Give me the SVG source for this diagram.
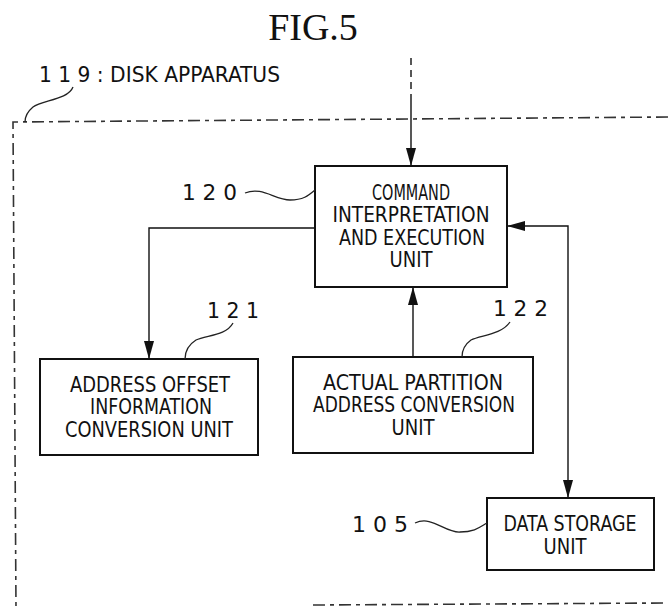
<svg xmlns="http://www.w3.org/2000/svg" width="668" height="608" viewBox="0 0 668 608">
<style>
.box{fill:#fff;stroke:#111;stroke-width:2}
.t{font-family:"DejaVu Sans Condensed","Liberation Sans",Arial,sans-serif;font-size:21px;fill:#111;text-anchor:middle}
.lbl{font-family:"DejaVu Sans Condensed","Liberation Sans",Arial,sans-serif;font-size:22px;fill:#111}
.ld{fill:none;stroke:#222;stroke-width:1.3}
.cn{fill:none;stroke:#111;stroke-width:1.4}
.bd{fill:none;stroke:#333;stroke-width:1.6;stroke-dasharray:12 5 4 5}
</style>
<defs>
<marker id="ah" markerUnits="userSpaceOnUse" markerWidth="18" markerHeight="10" refX="18" refY="5" orient="auto">
<path d="M0,0 L18,5 L0,10 Z" fill="#111"/>
</marker>
<marker id="ahs" markerUnits="userSpaceOnUse" markerWidth="18" markerHeight="10" refX="0" refY="5" orient="auto">
<path d="M18,0 L0,5 L18,10 Z" fill="#111"/>
</marker>
</defs>
<rect width="668" height="608" fill="#fff"/>
<text x="313" y="40" font-family="'Liberation Serif','Times New Roman',serif" font-size="38" fill="#111" text-anchor="middle">FIG.5</text>

<g id="disk-apparatus">
<path class="bd" d="M668,117 L13,122 L16,608"/>
<path class="bd" d="M313,605 L668,603"/>
<text class="lbl" x="39" y="82" font-size="23" textLength="241" lengthAdjust="spacingAndGlyphs">1 1 9 : DISK APPARATUS</text>
<path class="ld" d="M73,87 C68,100 42,100 33,107 C27,112 25,117 25,122"/>
</g>

<g id="connectors">
<path class="cn" d="M411,58 V100" stroke-dasharray="7 5"/>
<path class="cn" d="M411,100 V166" marker-end="url(#ah)"/>
<path class="cn" d="M315,228 H149 V359" marker-end="url(#ah)"/>
<path class="cn" d="M413,357 V287" marker-end="url(#ah)"/>
<path class="cn" d="M507,226 H568 V498" marker-start="url(#ahs)" marker-end="url(#ah)"/>
</g>

<g id="node-120">
<rect class="box" x="315" y="166" width="192" height="121"/>
<text class="t" x="411" y="200" textLength="78" lengthAdjust="spacingAndGlyphs">COMMAND</text>
<text class="t" x="411" y="222" textLength="157" lengthAdjust="spacingAndGlyphs">INTERPRETATION</text>
<text class="t" x="412" y="245" textLength="146" lengthAdjust="spacingAndGlyphs">AND EXECUTION</text>
<text class="t" x="411" y="267" textLength="43" lengthAdjust="spacingAndGlyphs">UNIT</text>
<text class="lbl" x="182" y="200" textLength="55" lengthAdjust="spacingAndGlyphs">1 2 0</text>
<path class="ld" d="M245,193 C262,186 275,200 290,200 C303,200 308,196 315,190"/>
</g>

<g id="node-121">
<rect class="box" x="40" y="359" width="218" height="96"/>
<text class="t" x="150" y="392" textLength="160" lengthAdjust="spacingAndGlyphs">ADDRESS OFFSET</text>
<text class="t" x="151" y="414" textLength="122" lengthAdjust="spacingAndGlyphs">INFORMATION</text>
<text class="t" x="149" y="437" textLength="168" lengthAdjust="spacingAndGlyphs">CONVERSION UNIT</text>
<text class="lbl" x="207" y="318" textLength="52" lengthAdjust="spacingAndGlyphs">1 2 1</text>
<path class="ld" d="M233,323 C226,336 206,335 196,340 C188,345 185,352 185,359"/>
</g>

<g id="node-122">
<rect class="box" x="293" y="357" width="240" height="96"/>
<text class="t" x="413" y="390" textLength="180" lengthAdjust="spacingAndGlyphs">ACTUAL PARTITION</text>
<text class="t" x="414" y="412" textLength="202" lengthAdjust="spacingAndGlyphs">ADDRESS CONVERSION</text>
<text class="t" x="413" y="435" textLength="43" lengthAdjust="spacingAndGlyphs">UNIT</text>
<text class="lbl" x="493" y="316" textLength="55" lengthAdjust="spacingAndGlyphs">1 2 2</text>
<path class="ld" d="M510,322 C501,335 481,335 471,340 C464,345 462,350 462,357"/>
</g>

<g id="node-105">
<rect class="box" x="487" y="498" width="167" height="72"/>
<text class="t" x="570" y="531" textLength="133" lengthAdjust="spacingAndGlyphs">DATA STORAGE</text>
<text class="t" x="565" y="554" textLength="43" lengthAdjust="spacingAndGlyphs">UNIT</text>
<text class="lbl" x="352" y="532" textLength="56" lengthAdjust="spacingAndGlyphs">1 0 5</text>
<path class="ld" d="M415,523 C432,515 445,533 460,532 C475,532 480,527 487,523"/>
</g>
</svg>
